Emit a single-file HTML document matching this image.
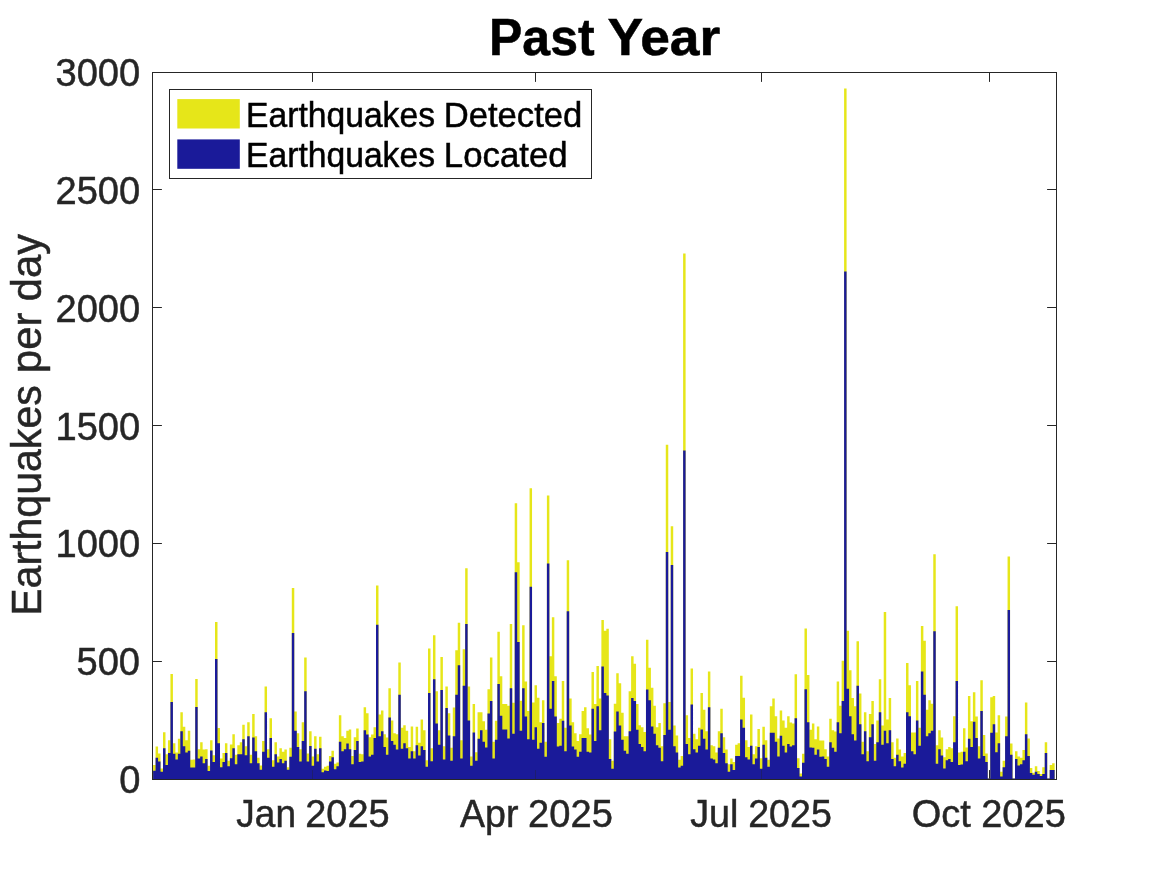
<!DOCTYPE html>
<html lang="en"><head><meta charset="utf-8"><title>Past Year</title>
<style>
html,body{margin:0;padding:0;background:#fff;}
body{width:1167px;height:875px;overflow:hidden;}
svg{display:block;}
text{font-family:"Liberation Sans",Arial,Helvetica,sans-serif;}
.tk{font-size:38.3px;fill:#262626;stroke:#262626;stroke-width:0.5;}
.yl{font-size:42.2px;fill:#262626;stroke:#262626;stroke-width:0.5;}
.lg{font-size:33.3px;fill:#000;stroke:#000;stroke-width:0.5;}
.tt{font-size:50px;font-weight:bold;fill:#000;stroke:#000;stroke-width:0.5;}
</style></head><body>
<svg width="1167" height="875" viewBox="0 0 1167 875">
<rect width="1167" height="875" fill="#fff"/>
<defs><clipPath id="ax"><rect x="152.5" y="72.5" width="904.0" height="707.0"/></clipPath></defs>

<path d="M152.5 661.5h9.4 M1056.5 661.5h-9.4M152.5 543.5h9.4 M1056.5 543.5h-9.4M152.5 425.5h9.4 M1056.5 425.5h-9.4M152.5 307.5h9.4 M1056.5 307.5h-9.4M152.5 189.5h9.4 M1056.5 189.5h-9.4M312.5 72.5v9.4M535.5 72.5v9.4M761.5 72.5v9.4M989.5 72.5v9.4M312.5 779.5v-9.4M535.5 779.5v-9.4M761.5 779.5v-9.4M989.5 779.5v-9.4" stroke="#262626" stroke-width="1" fill="none"/>
<g clip-path="url(#ax)"><path fill="#e6e619" d="M153.10 779.20V764.98H155.58V746.56H158.06V753.41H160.53V768.41H163.01V732.25H165.49V754.27H167.96V740.13H170.44V674.10H172.92V743.13H175.39V752.56H177.87V738.85H180.35V712.28H182.82V726.85H185.30V740.13H187.78V730.71H190.25V759.84H192.73V759.41H195.21V679.00H197.68V749.13H200.16V742.28H202.64V749.56H205.11V749.13H207.59V765.84H210.07V740.13H212.54V755.13H215.02V622.00H217.50V727.96H219.97V758.56H222.45V752.99H224.93V743.13H227.40V760.70H229.88V744.42H232.36V734.13H234.83V754.70H237.31V745.27H239.79V742.28H242.26V724.71H244.74V746.13H247.22V722.14H249.69V754.70H252.17V714.00H254.65V736.28H257.12V757.70H259.60V765.41H262.08V740.99H264.55V686.56H267.03V749.13H269.51V718.28H271.98V760.27H274.46V742.28H276.94V756.41H279.41V748.27H281.89V751.70H284.37V749.56H286.84V767.13H289.32V747.84H291.80V587.97H294.27V711.43H296.75V733.28H299.23V749.13H301.70V722.14H304.18V657.42H306.66V753.41H309.13V731.14H311.61V756.41H314.09V736.28H316.57V754.27H319.04V736.71H321.52V768.84H324.00V766.70H326.47V765.84H328.95V755.99H331.43V750.84H333.90V763.70H336.38V762.41H338.86V715.28H341.33V736.28H343.81V737.99H346.29V730.71H348.76V729.42H351.24V755.99H353.72V737.13H356.19V728.56H358.67V753.84H361.15V754.27H363.62V707.14H366.10V713.14H368.58V737.13H371.05V734.56H373.53V727.28H376.01V585.42H378.48V714.43H380.96V710.57H383.44V734.13H385.91V737.56H388.39V688.27H390.87V720.42H393.34V733.28H395.82V734.13H398.30V662.56H400.77V727.71H403.25V725.14H405.73V730.71H408.20V746.99H410.68V726.42H413.16V751.27H415.63V726.85H418.11V742.70H420.59V719.57H423.06V730.28H425.54V760.27H428.02V648.42H430.49V748.27H432.97V635.14H435.45V691.27H437.92V730.28H440.40V656.99H442.88V746.13H445.35V686.56H447.83V713.14H450.31V747.84H452.78V707.57H455.26V650.14H457.74V622.69H460.21V740.13H462.69V649.28H465.17V568.28H467.64V686.56H470.12V756.41H472.60V704.12H475.07V752.13H477.55V712.28H480.03V712.28H482.50V721.28H484.98V729.85H487.46V689.13H489.93V657.42H492.41V741.85H494.89V720.85H497.37V631.71H499.84V676.27H502.32V704.12H504.80V704.12H507.27V705.86H509.75V623.98H512.23V702.84H514.70V503.14H517.18V562.28H519.66V700.69H522.13V625.27H524.61V681.41H527.09V711.00H529.56V488.23H532.04V702.41H534.52V685.27H536.99V697.69H539.47V722.14H541.95V700.27H544.42V741.85H546.90V495.42H549.38V656.14H551.85V617.13H554.33V676.27H556.81V722.99H559.28V718.71H561.76V680.99H564.24V727.71H566.71V560.14H569.19V698.55H571.67V722.14H574.14V733.28H576.62V740.99H579.10V734.13H581.57V711.00H584.05V707.14H586.53V728.14H589.00V734.56H591.48V671.99H593.96V704.12H596.43V665.99H598.91V698.55H601.39V620.12H603.86V630.86H606.34V628.69H608.82V739.28H611.29V760.70H613.77V703.69H616.25V673.27H618.72V683.13H621.20V712.71H623.68V736.28H626.15V736.28H628.63V691.27H631.11V656.14H633.58V663.85H636.06V704.12H638.54V725.14H641.01V727.28H643.49V731.99H645.97V639.85H648.44V667.70H650.92V687.84H653.40V705.86H655.87V727.28H658.35V722.99H660.83V746.13H663.30V703.26H665.78V444.87H668.26V701.98H670.73V526.35H673.21V725.57H675.69V735.42H678.17V759.84H680.64V755.99H683.12V253.50H685.60V715.28H688.07V737.99H690.55V668.56H693.03V733.71H695.50V739.28H697.98V727.71H700.46V692.98H702.93V709.71H705.41V731.14H707.89V671.56H710.36V745.27H712.84V746.13H715.32V752.56H717.79V731.14H720.27V708.86H722.75V737.13H725.22V749.56H727.70V764.13H730.18V758.56H732.65V761.98H735.13V744.85H737.61V743.13H740.08V675.84H742.56V697.69H745.04V740.13H747.51V746.99H749.99V714.43H752.47V754.27H754.94V746.13H757.42V728.99H759.90V758.13H762.37V726.85H764.85V740.13H767.33V759.84H769.80V706.29H772.28V698.55H774.76V716.14H777.23V738.42H779.71V710.57H782.19V720.42H784.66V727.71H787.14V716.14H789.62V722.57H792.09V723.42H794.57V674.13H797.05V758.13H799.52V773.55H802.00V753.84H804.48V628.52H806.95V674.99H809.43V729.85H811.91V723.42H814.38V739.28H816.86V726.42H819.34V740.56H821.81V740.56H824.29V749.13H826.77V756.41H829.24V718.71H831.72V730.28H834.20V731.56H836.67V681.41H839.15V705.86H841.63V660.85H844.10V88.50H846.58V630.86H849.06V670.27H851.53V698.12H854.01V706.29H856.49V641.14H858.97V693.41H861.44V741.85H863.92V712.28H866.40V751.27H868.87V714.00H871.35V701.12H873.83V743.99H876.30V720.42H878.78V679.27H881.26V725.57H883.73V611.98H886.21V719.57H888.69V698.12H891.16V742.28H893.64V757.70H896.12V738.42H898.59V749.56H901.07V756.41H903.55V752.99H906.02V662.99H908.50V685.27H910.98V732.42H913.45V732.42H915.93V680.99H918.41V727.71H920.88V626.12H923.36V640.71H925.84V709.71H928.31V700.27H930.79V703.69H933.27V554.19H935.74V745.27H938.22V730.28H940.70V737.56H943.17V757.27H945.65V749.13H948.13V746.99H950.60V748.27H953.08V716.14H955.56V606.32H958.03V752.56H960.51V751.70H962.99V728.14H965.46V747.42H967.94V695.98H970.42V721.28H972.89V692.13H975.37V716.57H977.85V746.13H980.32V680.13H982.80V734.99H985.28V753.41H987.75V778.52H990.23V697.27H992.71V695.98H995.18V732.42H997.66V715.28H1000.14V771.84H1002.61V760.70H1005.09V716.57H1007.57V556.45H1010.04V743.56H1012.52V778.52H1015.00V751.27H1017.47V756.41H1019.95V757.70H1022.43V749.99H1024.90V702.41H1027.38V738.42H1029.86V767.98H1032.33V772.69H1034.81V766.27H1037.29V770.98H1039.77V773.98H1042.24V767.13H1044.72V742.28H1047.20V778.52H1049.67V765.10H1052.15V763.30H1054.63V779.20Z"/>
<path fill="#1a1a99" d="M153.10 779.20V770.81H155.58V757.70H158.06V761.56H160.53V771.84H163.01V748.27H165.49V764.98H167.96V752.99H170.44V702.00H172.92V753.84H175.39V759.41H177.87V753.84H180.35V731.14H182.82V746.13H185.30V752.56H187.78V750.84H190.25V767.55H192.73V767.55H195.21V707.10H197.68V758.56H200.16V756.41H202.64V763.27H205.11V758.98H207.59V770.98H210.07V750.42H212.54V761.98H215.02V659.00H217.50V743.13H219.97V767.13H222.45V761.98H224.93V752.99H227.40V766.27H229.88V758.13H232.36V748.27H234.83V764.13H237.31V754.27H239.79V754.27H242.26V739.28H244.74V755.13H247.22V736.28H249.69V763.27H252.17V737.56H254.65V751.27H257.12V763.27H259.60V769.70H262.08V751.70H264.55V712.28H267.03V757.70H269.51V737.99H271.98V766.70H274.46V754.27H276.94V762.41H279.41V758.98H281.89V763.27H284.37V760.70H286.84V769.70H289.32V756.84H291.80V633.00H294.27V730.71H296.75V746.99H299.23V761.56H301.70V740.99H304.18V691.27H306.66V761.56H309.13V745.96H311.61V765.84H314.09V748.87H316.57V761.56H319.04V748.27H321.52V772.27H324.00V770.55H326.47V770.98H328.95V761.56H331.43V757.27H333.90V769.27H336.38V766.27H338.86V741.85H341.33V751.27H343.81V749.13H346.29V743.56H348.76V749.13H351.24V764.13H353.72V749.99H356.19V740.99H358.67V761.98H361.15V761.56H363.62V730.28H366.10V734.56H368.58V756.41H371.05V754.70H373.53V737.99H376.01V624.84H378.48V736.28H380.96V731.14H383.44V746.99H385.91V754.70H388.39V717.43H390.87V740.99H393.34V744.85H395.82V749.56H398.30V694.70H400.77V748.70H403.25V743.13H405.73V748.27H408.20V758.56H410.68V751.27H413.16V758.56H415.63V745.27H418.11V755.56H420.59V746.13H423.06V749.99H425.54V766.70H428.02V692.98H430.49V761.13H432.97V679.27H435.45V723.42H437.92V744.85H440.40V689.98H442.88V759.41H445.35V708.00H447.83V735.42H450.31V760.70H452.78V736.28H455.26V694.70H457.74V665.13H460.21V758.56H462.69V685.70H465.17V623.98H467.64V720.42H470.12V765.84H472.60V732.42H475.07V760.70H477.55V738.85H480.03V730.28H482.50V741.85H484.98V747.42H487.46V713.57H489.93V701.12H492.41V758.56H494.89V739.70H497.37V683.98H499.84V715.71H502.32V729.42H504.80V729.42H507.27V738.42H509.75V688.27H512.23V733.71H514.70V572.14H517.18V642.00H519.66V730.71H522.13V688.27H524.61V716.57H527.09V739.28H529.56V586.71H532.04V739.70H534.52V727.28H536.99V748.70H539.47V742.70H541.95V722.99H544.42V756.84H546.90V563.57H549.38V708.86H551.85V680.99H554.33V716.57H556.81V746.56H559.28V745.70H561.76V720.85H564.24V751.27H566.71V611.13H569.19V725.57H571.67V746.56H574.14V749.56H576.62V756.84H579.10V751.70H581.57V737.99H584.05V737.99H586.53V751.70H589.00V752.56H591.48V708.86H593.96V740.99H596.43V706.29H598.91V730.28H601.39V666.42H603.86V692.98H606.34V695.55H608.82V758.98H611.29V768.84H613.77V731.56H616.25V711.43H618.72V725.57H621.20V739.70H623.68V750.84H626.15V753.84H628.63V731.14H631.11V698.12H633.58V701.12H636.06V729.85H638.54V743.99H641.01V746.99H643.49V751.27H645.97V689.55H648.44V700.27H650.92V726.42H653.40V733.71H655.87V745.27H658.35V747.84H660.83V761.13H663.30V734.99H665.78V552.08H668.26V729.85H670.73V564.94H673.21V746.13H675.69V752.56H678.17V767.55H680.64V765.84H683.12V450.53H685.60V743.99H688.07V754.27H690.55V704.55H693.03V749.13H695.50V752.56H697.98V745.70H700.46V729.42H702.93V738.85H705.41V749.56H707.89V707.14H710.36V758.56H712.84V759.41H715.32V763.27H717.79V747.84H720.27V733.28H722.75V752.99H725.22V763.27H727.70V771.84H730.18V764.13H732.65V770.12H735.13V755.99H737.61V755.99H740.08V719.57H742.56V727.71H745.04V757.27H747.51V759.41H749.99V745.70H752.47V764.13H754.94V758.56H757.42V746.99H759.90V768.84H762.37V744.85H764.85V757.70H767.33V766.70H769.80V732.85H772.28V732.85H774.76V741.85H777.23V756.41H779.71V735.85H782.19V745.70H784.66V752.56H787.14V743.99H789.62V746.56H792.09V745.27H794.57V718.28H797.05V767.98H799.52V776.55H802.00V762.84H804.48V689.13H806.95V722.14H809.43V747.42H811.91V747.84H814.38V754.70H816.86V749.56H819.34V756.84H821.81V756.41H824.29V758.98H826.77V766.70H829.24V742.28H831.72V747.84H834.20V751.70H836.67V722.14H839.15V733.28H841.63V701.12H844.10V271.60H846.58V688.70H849.06V716.14H851.53V734.13H854.01V740.56H856.49V685.70H858.97V724.28H861.44V754.27H863.92V731.14H866.40V761.13H868.87V737.13H871.35V724.28H873.83V760.70H876.30V742.28H878.78V712.28H881.26V744.85H883.73V730.71H886.21V743.13H888.69V730.28H891.16V758.98H893.64V766.27H896.12V754.70H898.59V761.13H901.07V767.55H903.55V763.70H906.02V712.28H908.50V716.14H910.98V751.27H913.45V754.27H915.93V720.42H918.41V745.70H920.88V671.56H923.36V694.70H925.84V736.28H928.31V733.28H930.79V730.71H933.27V631.29H935.74V763.70H938.22V749.13H940.70V755.56H943.17V768.41H945.65V760.27H948.13V758.98H950.60V761.98H953.08V742.28H955.56V680.99H958.03V764.98H960.51V764.55H962.99V751.70H965.46V761.13H967.94V738.85H970.42V746.99H972.89V721.71H975.37V737.99H977.85V758.56H980.32V711.00H982.80V755.99H985.28V761.98H987.75V778.52H990.23V732.85H992.71V724.28H995.18V752.13H997.66V743.13H1000.14V776.55H1002.61V767.13H1005.09V736.28H1007.57V609.92H1010.04V754.70H1012.52V778.52H1015.00V758.98H1017.47V765.41H1019.95V764.13H1022.43V760.27H1024.90V734.13H1027.38V755.99H1029.86V773.12H1032.33V774.84H1034.81V771.84H1037.29V773.98H1039.77V776.12H1042.24V773.98H1044.72V752.99H1047.20V778.52H1049.67V770.00H1052.15V770.00H1054.63V779.20Z"/></g>
<path d="M312.5 779.5v-9.4M535.5 779.5v-9.4M761.5 779.5v-9.4M989.5 779.5v-9.4" stroke="#262626" stroke-width="1" fill="none" opacity="0.35"/>
<rect x="152.5" y="72.5" width="904.0" height="707.0" stroke="#262626" stroke-width="1" fill="none"/>
<text class="tk" y="793.29" style="font-size:39.15px"><tspan x="119.15" textLength="21.20" lengthAdjust="spacingAndGlyphs">0</tspan></text>
<text class="tk" y="675.49" style="font-size:39.15px"><tspan x="76.47" textLength="63.57" lengthAdjust="spacingAndGlyphs">500</tspan></text>
<text class="tk" y="557.49" style="font-size:39.15px"><tspan x="55.47" textLength="84.77" lengthAdjust="spacingAndGlyphs">1000</tspan></text>
<text class="tk" y="439.69" style="font-size:39.15px"><tspan x="55.47" textLength="84.77" lengthAdjust="spacingAndGlyphs">1500</tspan></text>
<text class="tk" y="321.89" style="font-size:39.15px"><tspan x="55.47" textLength="84.77" lengthAdjust="spacingAndGlyphs">2000</tspan></text>
<text class="tk" y="204.19" style="font-size:39.15px"><tspan x="55.47" textLength="84.77" lengthAdjust="spacingAndGlyphs">2500</tspan></text>
<text class="tk" y="86.29" style="font-size:39.15px"><tspan x="55.47" textLength="84.77" lengthAdjust="spacingAndGlyphs">3000</tspan></text>
<text class="tk" y="827.11" style="font-size:39.15px"><tspan x="236.37" textLength="59.61" lengthAdjust="spacingAndGlyphs">Jan</tspan> <tspan x="305.16" textLength="84.45" lengthAdjust="spacingAndGlyphs">2025</tspan></text>
<text class="tk" y="827.11" style="font-size:39.15px"><tspan x="460.03" textLength="58.37" lengthAdjust="spacingAndGlyphs">Apr</tspan> <tspan x="528.09" textLength="84.80" lengthAdjust="spacingAndGlyphs">2025</tspan></text>
<text class="tk" y="827.11" style="font-size:39.15px"><tspan x="690.26" textLength="48.24" lengthAdjust="spacingAndGlyphs">Jul</tspan> <tspan x="748.15" textLength="83.71" lengthAdjust="spacingAndGlyphs">2025</tspan></text>
<text class="tk" y="827.11" style="font-size:39.15px"><tspan x="911.71" textLength="59.15" lengthAdjust="spacingAndGlyphs">Oct</tspan> <tspan x="981.20" textLength="84.64" lengthAdjust="spacingAndGlyphs">2025</tspan></text>
<text class="yl" transform="translate(41.00 612.80) rotate(-90)" y="-0.23" style="font-size:42.82px"><tspan x="-3.04" textLength="230.61" lengthAdjust="spacingAndGlyphs">Earthquakes</tspan> <tspan x="239.68" textLength="60.50" lengthAdjust="spacingAndGlyphs">per</tspan> <tspan x="311.66" textLength="67.11" lengthAdjust="spacingAndGlyphs">day</tspan></text>
<text class="tt" y="54.57" style="font-size:50.93px"><tspan x="488.97" textLength="105.63" lengthAdjust="spacingAndGlyphs">Past</tspan> <tspan x="607.49" textLength="112.84" lengthAdjust="spacingAndGlyphs">Year</tspan></text>
<rect x="169.5" y="89.5" width="422" height="89" fill="#fff" stroke="#262626" stroke-width="1"/>
<rect x="177.3" y="99.1" width="62.5" height="29.4" fill="#e6e619"/>
<rect x="177.3" y="139.4" width="62.5" height="29.4" fill="#1a1a99"/>
<text class="lg" y="126.67" style="font-size:34.89px"><tspan x="246.00" textLength="189.02" lengthAdjust="spacingAndGlyphs">Earthquakes</tspan> <tspan x="443.70" textLength="138.67" lengthAdjust="spacingAndGlyphs">Detected</tspan></text>
<text class="lg" y="166.77" style="font-size:34.89px"><tspan x="246.00" textLength="189.02" lengthAdjust="spacingAndGlyphs">Earthquakes</tspan> <tspan x="443.87" textLength="123.72" lengthAdjust="spacingAndGlyphs">Located</tspan></text>
</svg></body></html>
